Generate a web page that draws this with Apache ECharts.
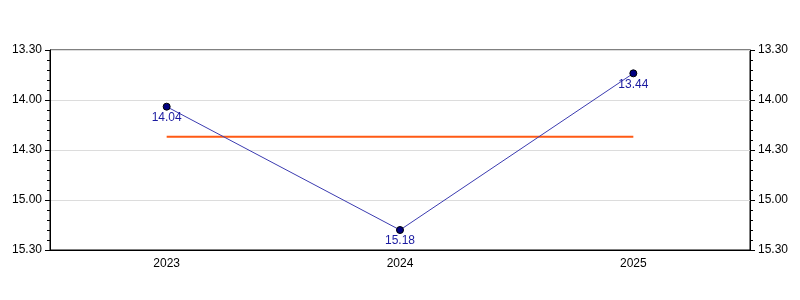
<!DOCTYPE html>
<html>
<head>
<meta charset="utf-8">
<script src="https://cdn.jsdelivr.net/npm/echarts@6/dist/echarts.min.js"></script>
<style>html,body{margin:0;padding:0;background:#fff}#c{width:800px;height:300px}</style>
</head>
<body>
<div id="c"></div>
<script>
var categories = ['2023', '2024', '2025'];
var timesMMSS = ['14.04', '15.18', '13.44'];
var referenceMMSS = ['14.22', '14.22', '14.22'];
var axisTicksMMSS = ['13.30', '14.00', '14.30', '15.00', '15.30'];

function toSec(s) { var p = s.split('.'); return parseInt(p[0], 10) * 60 + parseInt(p[1], 10); }
function fmt(v) { var m = Math.floor(v / 60), s = Math.round(v - m * 60); return m + '.' + (s < 10 ? '0' : '') + s; }

var timeValues = timesMMSS.map(toSec);
var referenceValues = referenceMMSS.map(toSec);
var axisMin = toSec(axisTicksMMSS[0]);
var axisMax = toSec(axisTicksMMSS[axisTicksMMSS.length - 1]);
var axisStep = toSec(axisTicksMMSS[1]) - axisMin;

var font = 'Liberation Sans, Arial, sans-serif';
function yAxisCfg(pos, showSplit) {
  return {
    type: 'value', position: pos, inverse: true,
    min: axisMin, max: axisMax, interval: axisStep,
    axisLine: { show: true, lineStyle: { color: '#000', width: 1 } },
    axisTick: { show: true, length: 5, lineStyle: { color: '#000' } },
    minorTick: { show: true, splitNumber: 5, length: 3, lineStyle: { color: '#000' } },
    splitLine: { show: showSplit, lineStyle: { color: '#dcdcdc', width: 1 } },
    axisLabel: { color: '#000', fontSize: 12, fontFamily: font, margin: 8, formatter: fmt }
  };
}

var chart = echarts.init(document.getElementById('c'), null, { renderer: 'canvas' });
chart.setOption({
  animation: false,
  grid: { left: 50, right: 50, top: 50, bottom: 50, show: true, borderColor: '#000', borderWidth: 1, backgroundColor: 'transparent' },
  xAxis: {
    type: 'category', data: categories, boundaryGap: true,
    axisLine: { lineStyle: { color: '#000' } },
    axisTick: { alignWithLabel: true, length: 4, lineStyle: { color: '#000' } },
    axisLabel: { color: '#000', fontSize: 12, fontFamily: font, margin: 8 }
  },
  yAxis: [yAxisCfg('left', true), yAxisCfg('right', false)],
  series: [
    {
      type: 'line', data: referenceValues, yAxisIndex: 0, symbol: 'none',
      lineStyle: { color: '#ff5a14', width: 2 }, z: 2
    },
    {
      type: 'line', data: timeValues, yAxisIndex: 0,
      symbol: 'circle', symbolSize: 7,
      itemStyle: { color: '#000080', borderColor: '#000', borderWidth: 1 },
      lineStyle: { color: '#3b3bb0', width: 1 },
      label: { show: true, position: 'bottom', distance: 1, color: '#1a1aa0', fontSize: 12, fontFamily: font, formatter: function (p) { return fmt(p.value); } },
      z: 3
    }
  ]
});
</script>
</body>
</html>
